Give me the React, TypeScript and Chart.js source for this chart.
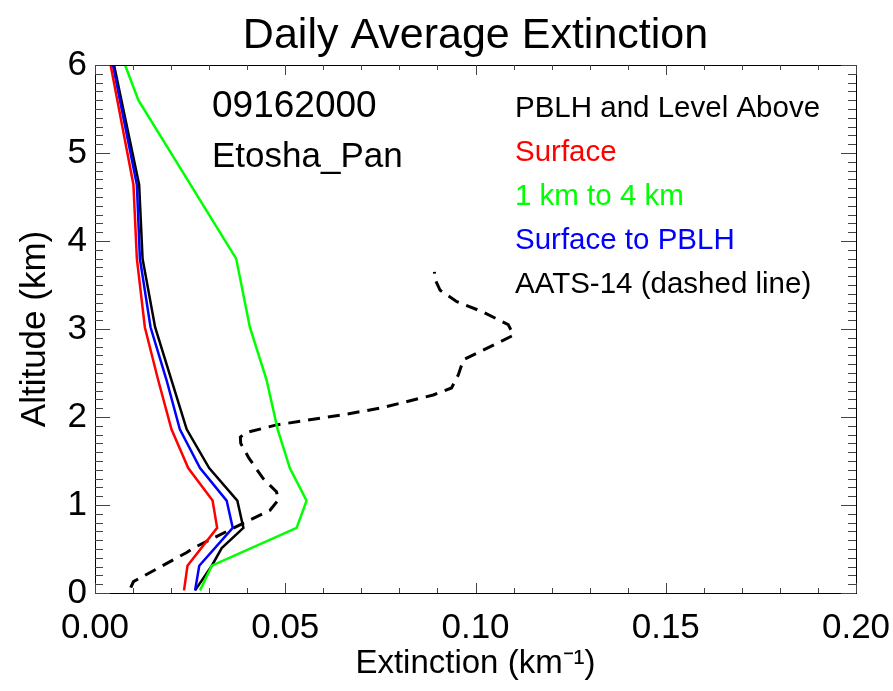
import React, { useEffect, useRef } from 'react';
import { Chart, registerables } from 'chart.js';

Chart.register(...registerables);

const TITLE = 'Daily Average Extinction';
const X_TITLE = 'Extinction (km⁻¹)';
const Y_TITLE = 'Altitude (km)';

const xMajorTicks = [0, 0.05, 0.1, 0.15, 0.2];
const xTickLabels = ['0.00', '0.05', '0.10', '0.15', '0.20'];
const yMajorTicks = [0, 1, 2, 3, 4, 5, 6];
const yTickLabels = ['0', '1', '2', '3', '4', '5', '6'];

const infoLines = ['09162000', 'Etosha_Pan'];
const legendLines = ['PBLH and Level Above', 'Surface', '1 km to 4 km', 'Surface to PBLH', 'AATS-14 (dashed line)'];
const legendColors = ['#000000', '#ff0000', '#00ff00', '#0000ff', '#000000'];

// Surface (red)
const surfaceAlt = [0.03, 0.31, 0.74, 1.05, 1.42, 1.86, 2.42, 3.02, 3.8, 4.64, 6.0];
const surfaceExt = [0.0234, 0.0243, 0.0321, 0.0309, 0.0245, 0.0201, 0.0166, 0.0131, 0.011, 0.0101, 0.0041];

// 1 km to 4 km (green)
const midAlt = [0.03, 0.31, 0.74, 1.05, 1.42, 1.86, 2.42, 3.02, 3.8, 5.6, 6.0];
const midExt = [0.0276, 0.0307, 0.053, 0.0556, 0.0512, 0.048, 0.0451, 0.0407, 0.0371, 0.0114, 0.0079];

// Surface to PBLH (blue)
const pblhAlt = [0.03, 0.31, 0.74, 1.05, 1.42, 1.86, 2.42, 3.02, 3.8, 4.64, 6.0];
const pblhExt = [0.0263, 0.0274, 0.0362, 0.0346, 0.0276, 0.0223, 0.0188, 0.0146, 0.0118, 0.011, 0.0047];

// PBLH and Level Above (black)
const aboveAlt = [0.03, 0.31, 0.51, 0.74, 1.05, 1.42, 1.86, 2.42, 3.02, 3.8, 4.64, 6.0];
const aboveExt = [0.0263, 0.0307, 0.0333, 0.039, 0.0374, 0.030, 0.0241, 0.0201, 0.0158, 0.0125, 0.0116, 0.005];

// AATS-14 (black dashed)
const aatsAlt = [0.06, 0.13, 0.46, 0.51, 0.83, 0.94, 1.06, 1.15, 1.3, 1.53, 1.7, 1.77, 1.82, 1.91, 2.02, 2.1, 2.25, 2.33, 2.48, 2.65, 2.93, 3.05, 3.2, 3.31, 3.44, 3.56, 3.65];
const aatsExt = [0.0094, 0.0101, 0.0241, 0.0258, 0.0407, 0.046, 0.0482, 0.0477, 0.0442, 0.0405, 0.0383, 0.0382, 0.0395, 0.0477, 0.0644, 0.0749, 0.0889, 0.0937, 0.0955, 0.0968, 0.110, 0.1086, 0.1016, 0.0951, 0.0907, 0.0894, 0.0892];

const FONT = "'Liberation Sans', Arial, Helvetica, sans-serif";

const pts = (xs: number[], ys: number[]) => xs.map((x, i) => ({ x, y: ys[i] }));

const matchIdx = (v: number, arr: number[]) => arr.findIndex((m) => Math.abs(m - v) < 1e-6);

const framePlugin = {
  id: 'frame',
  afterDatasetsDraw(chart: any) {
    const { ctx, chartArea: a, scales } = chart;
    const xs = scales.x;
    const ys = scales.y;
    ctx.save();
    ctx.strokeStyle = '#000';
    ctx.lineWidth = 1;
    ctx.strokeRect(Math.round(a.left) + 0.5, Math.round(a.top) + 0.5, Math.round(a.right - a.left), Math.round(a.bottom - a.top));
    ctx.strokeStyle = '#444';
    ctx.beginPath();
    xs.ticks.forEach((t: any) => {
      const px = Math.round(xs.getPixelForValue(t.value)) + 0.5;
      const len = matchIdx(t.value, xMajorTicks) >= 0 ? 10 : 5;
      ctx.moveTo(px, a.bottom);
      ctx.lineTo(px, a.bottom - len);
      ctx.moveTo(px, a.top);
      ctx.lineTo(px, a.top + len);
    });
    ys.ticks.forEach((t: any) => {
      const py = Math.round(ys.getPixelForValue(t.value)) + 0.5;
      const len = matchIdx(t.value, yMajorTicks) >= 0 ? 15 : 8;
      ctx.moveTo(a.left, py);
      ctx.lineTo(a.left + len, py);
      ctx.moveTo(a.right, py);
      ctx.lineTo(a.right - len, py);
    });
    ctx.stroke();

    ctx.textBaseline = 'alphabetic';
    ctx.fillStyle = '#000';
    ctx.textAlign = 'center';
    ctx.font = `43px ${FONT}`;
    ctx.fillText(TITLE, (a.left + a.right) / 2, 48);

    ctx.textAlign = 'left';
    ctx.font = `37px ${FONT}`;
    ctx.fillText(infoLines[0], 212, 117);
    ctx.font = `35px ${FONT}`;
    ctx.fillText(infoLines[1], 212, 167);

    ctx.font = `29.5px ${FONT}`;
    legendLines.forEach((s, i) => {
      ctx.fillStyle = legendColors[i];
      ctx.fillText(s, 515, 117 + i * 44);
    });
    ctx.restore();
  },
};

export default function App() {
  const ref = useRef<HTMLCanvasElement>(null);
  useEffect(() => {
    if (!ref.current) return;
    const line = (data: any, color: string, dash: number[] = []) => ({
      data,
      borderColor: color,
      backgroundColor: color,
      borderWidth: dash.length ? 3 : 2.5,
      borderDash: dash,
      pointRadius: 0,
      tension: 0,
      fill: false,
    });
    const chart = new Chart(ref.current, {
      type: 'line',
      data: {
        datasets: [
          line(pts(surfaceExt, surfaceAlt), '#ff0000'),
          line(pts(midExt, midAlt), '#00ff00'),
          line(pts(pblhExt, pblhAlt), '#0000ff'),
          line(pts(aboveExt, aboveAlt), '#000000'),
          line(pts(aatsExt, aatsAlt), '#000000', [12, 8]),
        ],
      },
      options: {
        responsive: false,
        animation: false,
        devicePixelRatio: 1,
        layout: { padding: { left: 0, right: 37, top: 65, bottom: 0 } },
        plugins: {
          legend: { display: false },
          tooltip: { enabled: false },
          title: { display: false },
        },
        scales: {
          x: {
            type: 'linear',
            min: 0,
            max: 0.2,
            grid: { display: false, drawTicks: false },
            border: { display: false },
            ticks: {
              stepSize: 0.01,
              autoSkip: false,
              maxRotation: 0,
              padding: 2,
              color: '#000',
              font: { family: FONT, size: 35, lineHeight: 66 / 35 },
              callback: (v: any) => {
                const i = matchIdx(Number(v), xMajorTicks);
                return i >= 0 ? xTickLabels[i] : '';
              },
            },
            title: {
              display: true,
              text: X_TITLE,
              color: '#000',
              font: { family: FONT, size: 33 },
              padding: { top: 0, bottom: 7 },
            },
            afterFit: (s: any) => {
              s.height = 98;
            },
          },
          y: {
            type: 'linear',
            min: 0,
            max: 6,
            grid: { display: false, drawTicks: false },
            border: { display: false },
            ticks: {
              stepSize: 0.1,
              autoSkip: false,
              padding: 8,
              color: '#000',
              font: { family: FONT, size: 35 },
              callback: (v: any) => {
                const i = matchIdx(Number(v), yMajorTicks);
                return i >= 0 ? yTickLabels[i] : '';
              },
            },
            title: {
              display: true,
              text: Y_TITLE,
              color: '#000',
              font: { family: FONT, size: 35 },
              padding: { top: 14, bottom: 0 },
            },
            afterFit: (s: any) => {
              s.width = 95;
            },
          },
        },
      },
      plugins: [framePlugin],
    });
    return () => chart.destroy();
  }, []);
  return (
    <div style={{ position: 'fixed', left: 0, top: 0, width: 893, height: 691, background: '#fff' }}>
      <canvas ref={ref} width={893} height={691} style={{ width: 893, height: 691, display: 'block' }} />
    </div>
  );
}
